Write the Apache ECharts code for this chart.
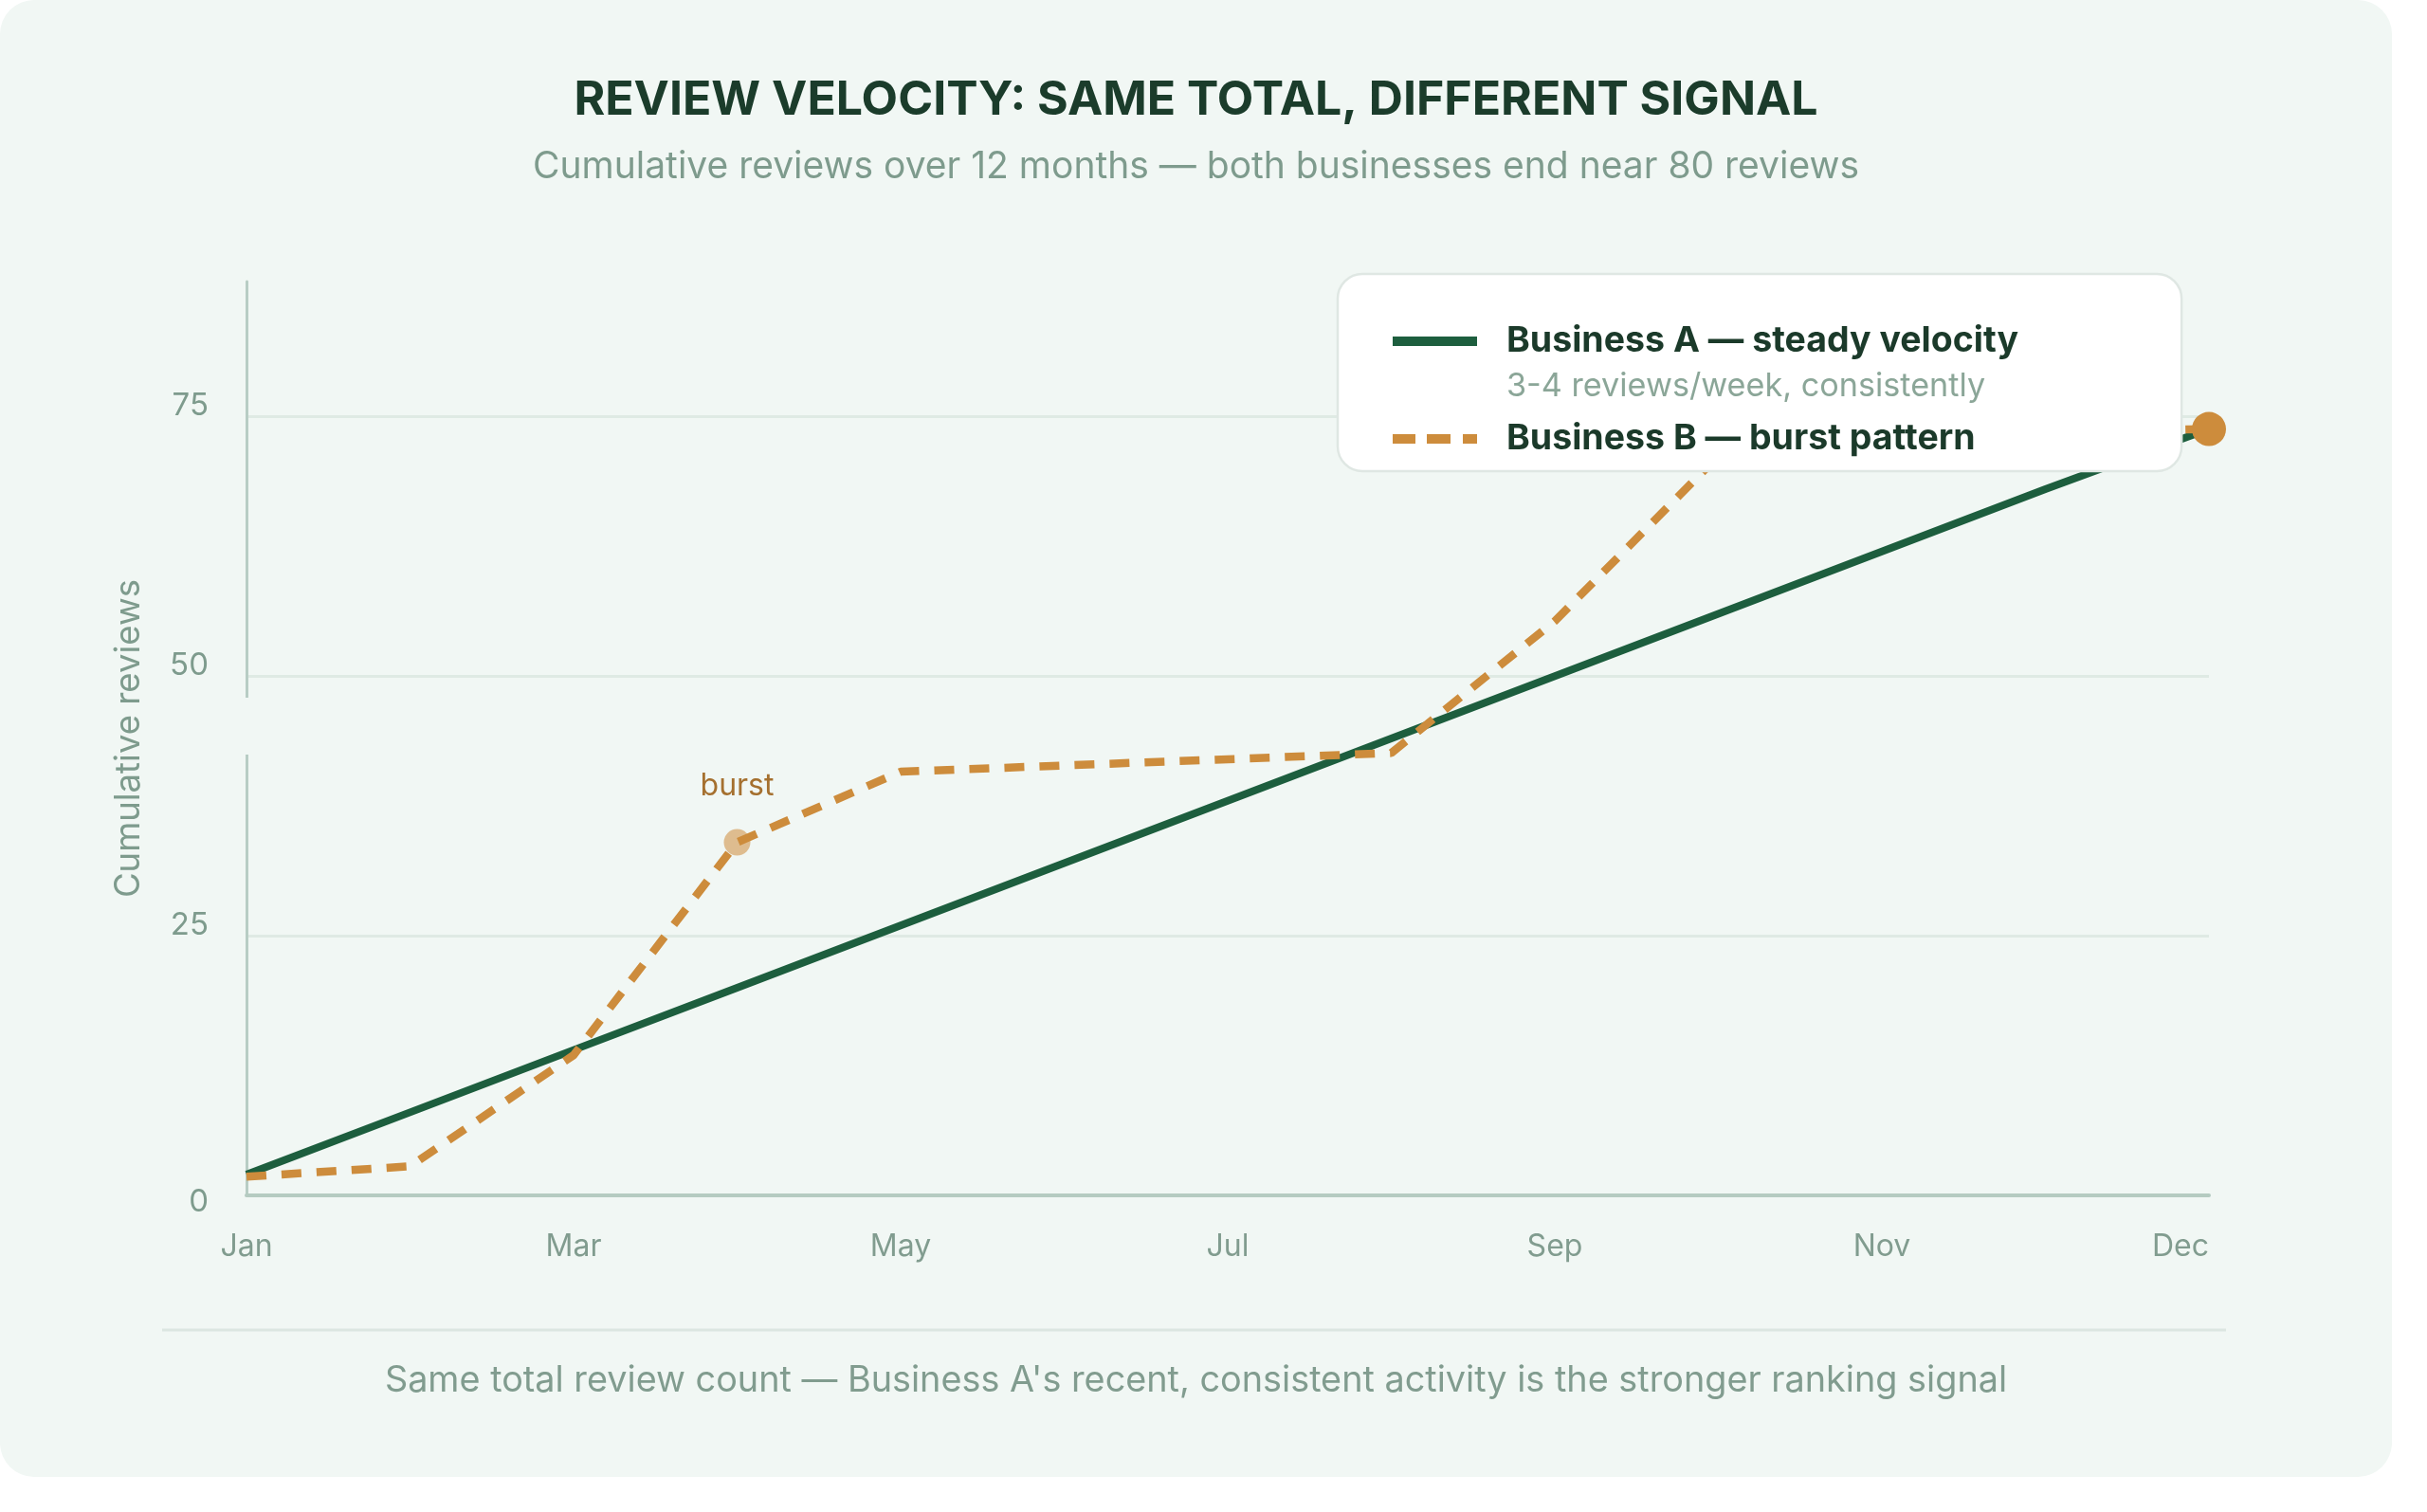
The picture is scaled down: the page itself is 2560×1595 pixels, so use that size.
<!DOCTYPE html>
<html>
<head>
<meta charset="utf-8">
<script src="https://cdn.jsdelivr.net/npm/echarts@6/dist/echarts.min.js"></script>
<style>
  html, body { margin: 0; padding: 0; background: #ffffff; }
  #card {
    position: absolute; left: 0; top: 0;
    width: 2523px; height: 1558px;
    border-radius: 36px; background: #f1f7f4; overflow: hidden;
  }
  #chart { width: 2523px; height: 1558px; }
</style>
</head>
<body>
<div id="card"><div id="chart"></div></div>
<script>
// months elapsed since Jan (x values) and the axis tick names
const monthIndex = [0, 1, 2, 3, 4, 5, 6, 7, 8, 9, 10, 11, 12];
const tickLabels = ['Jan', 'Mar', 'May', 'Jul', 'Sep', 'Nov', 'Dec'];

// cumulative reviews
const businessA = [2, 8, 14, 20, 26, 32, 38, 44, 50, 56, 62, 68, 73.8];
const businessB = [1.8, 2.8, 13.5, 34, 40.8, 41.4, 42, 42.6, 55.3, 71.2, 73, 73.5, 73.8];

const burstIndex = 3;
const nameA = 'Business A \u2014 steady velocity';
const nameB = 'Business B \u2014 burst pattern';

const GREEN = '#1d5e3e';
const ORANGE = '#cd8c3c';
const FONT = 'Inter, "Noto Sans", sans-serif';

const chart = echarts.init(document.getElementById('chart'));

const dataA = monthIndex.map((m, i) => [m, businessA[i]]);
const dataB = monthIndex.map((m, i) => {
  const item = { value: [m, businessB[i]] };
  if (i === burstIndex) {
    item.symbol = 'circle';
    item.symbolSize = 28;
    item.itemStyle = { color: 'rgba(205,140,60,0.55)' };
    item.label = {
      show: true, formatter: 'burst', position: 'top', distance: 29,
      color: '#a5702f', fontSize: 32, fontFamily: FONT
    };
  } else if (i === monthIndex.length - 1) {
    item.symbol = 'circle';
    item.symbolSize = 36;
    item.itemStyle = { color: ORANGE };
  }
  return item;
});

chart.setOption({
  animation: false,
  textStyle: { fontFamily: FONT },
  title: [
    {
      text: 'REVIEW VELOCITY: SAME TOTAL, DIFFERENT SIGNAL',
      subtext: 'Cumulative reviews over 12 months \u2014 both businesses end near 80 reviews',
      left: 'center', top: 73, itemGap: 20,
      textStyle: { fontSize: 50, fontWeight: 'bold', color: '#1b3c2b', lineHeight: 56, fontFamily: FONT },
      subtextStyle: { fontSize: 39, color: '#7e9b8d', lineHeight: 44, fontFamily: FONT }
    },
    {
      text: 'Same total review count \u2014 Business A\'s recent, consistent activity is the stronger ranking signal',
      left: 'center', top: 1430,
      textStyle: { fontSize: 37.8, fontWeight: 'normal', color: '#819c8f', lineHeight: 44, fontFamily: FONT }
    }
  ],
  legend: {
    orient: 'vertical',
    left: 1411, top: 289,
    padding: [51, 172, 14, 58],
    itemWidth: 115, itemHeight: 10, itemGap: 63,
    backgroundColor: '#ffffff',
    borderColor: '#dfe7e3', borderWidth: 2.5, borderRadius: 26,
    itemStyle: { borderWidth: 0 },
    textStyle: { fontSize: 37.5, fontWeight: 'bold', color: '#1b3a2a', lineHeight: 40, fontFamily: FONT },
    data: [
      { name: nameA, icon: 'path://M0,0H89V10H0Z M115,10' },
      { name: nameB, icon: 'path://M0,0H24V10H0Z M36,0H61V10H36Z M74,0H89V10H74Z M115,10' }
    ]
  },
  grid: { left: 260, right: 193, top: 297, bottom: 297 },
  xAxis: {
    type: 'value', min: 0, max: 12, interval: 2,
    axisLine: { show: true, lineStyle: { color: '#b5cbc1', width: 4 } },
    axisTick: { show: false },
    splitLine: { show: false },
    axisLabel: {
      margin: 38, fontSize: 32, color: '#819c8f', fontFamily: FONT,
      alignMaxLabel: 'right',
      formatter: v => tickLabels[v / 2]
    }
  },
  yAxis: {
    type: 'value', min: 0, max: 88, interval: 25,
    name: 'Cumulative reviews', nameLocation: 'middle', nameGap: 105,
    nameTextStyle: { fontSize: 36.5, color: '#7e9b8d', fontFamily: FONT },
    axisLine: { show: true, lineStyle: { color: '#b8cdc4', width: 3 } },
    axisTick: { show: false },
    splitLine: { show: true, showMinLine: false, showMaxLine: false, lineStyle: { color: '#dfeae4', width: 3 } },
    axisLabel: {
      margin: 40, showMaxLabel: false, fontSize: 33, color: '#7e9b8d', fontFamily: FONT,
      formatter: v => (v % 25 !== 0 ? '' : (v === 0 ? '{z|0}' : '{n|' + v + '}')),
      rich: {
        n: { fontSize: 33, color: '#7e9b8d', fontFamily: FONT, padding: [0, 0, 22, 0] },
        z: { fontSize: 33, color: '#7e9b8d', fontFamily: FONT, padding: [14, 0, 0, 0] }
      }
    }
  },
  graphic: [
    // break in the y axis line beside the axis name
    { type: 'rect', shape: { x: 254, y: 736, width: 12, height: 60 }, style: { fill: '#f1f7f4' }, z: 50, silent: true },
    { type: 'text', x: 1589, y: 408, z: 50, silent: true,
      style: { text: '3-4 reviews/week, consistently', fontSize: 34.2, fill: '#8ba698', fontFamily: FONT, verticalAlign: 'middle' } },
    { type: 'line', shape: { x1: 171, y1: 1403, x2: 2348, y2: 1403 }, style: { stroke: '#dce6e1', lineWidth: 3 }, z: 50, silent: true }
  ],
  series: [
    {
      name: nameA, type: 'line', data: dataA,
      symbol: 'none', color: GREEN,
      lineStyle: { width: 8, color: GREEN }
    },
    {
      name: nameB, type: 'line', data: dataB,
      symbol: 'none', showSymbol: true, color: ORANGE,
      lineStyle: { width: 8.5, color: ORANGE, type: [21, 16], cap: 'butt' }
    }
  ]
});
</script>
</body>
</html>
